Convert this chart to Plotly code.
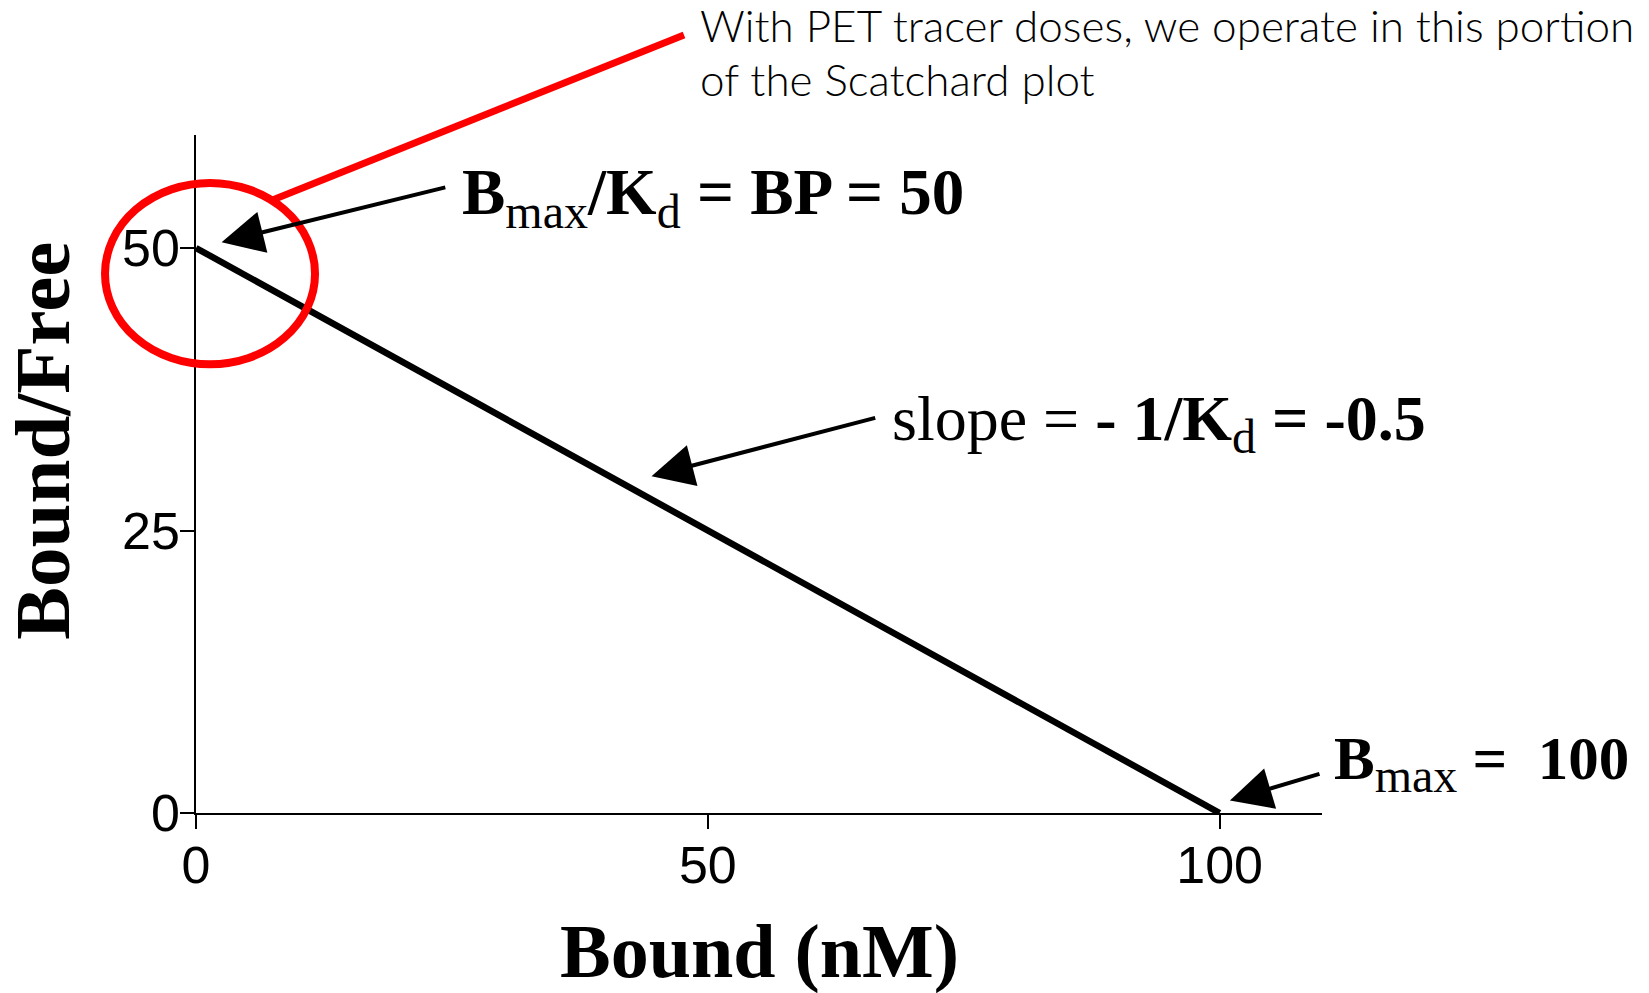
import plotly.graph_objects as go

# Scatchard plot: Bound/Free vs Bound for a single binding site
bmax = 100          # nM
kd = 2              # nM
bound_nM = [0, bmax]
bound_over_free = [bmax / kd, 0]
x_ticks = [0, 50, 100]
y_ticks = [0, 25, 50]

SERIF = "Liberation Serif"
SANS = "Liberation Sans"

fig = go.Figure()
fig.add_trace(go.Scatter(
    x=bound_nM, y=bound_over_free, mode="lines",
    line=dict(color="black", width=6.5),
    cliponaxis=False, showlegend=False, hoverinfo="skip",
))

axis_common = dict(
    showline=True, linecolor="black", linewidth=1.5,
    ticks="outside", ticklen=14, tickwidth=1.5, tickcolor="black",
    showgrid=False, zeroline=False,
    tickfont=dict(family=SANS, size=52, color="black"),
)
fig.update_xaxes(range=[0, 110], tickvals=x_ticks, ticklabelstandoff=-8, **axis_common)
fig.update_yaxes(range=[0, 60], tickvals=y_ticks, ticklabelstandoff=-10, **axis_common)


def arrow(tip, tail):
    fig.add_annotation(
        x=tip[0], y=tip[1], ax=tail[0], ay=tail[1],
        xref="x", yref="y", axref="x", ayref="y",
        text="", showarrow=True, arrowhead=2, arrowsize=2.1,
        arrowwidth=4, arrowcolor="black", standoff=0,
    )


SUB = '<sub><span style="font-size:48px">{}</span></sub>'

# B_max / K_d label at the y-intercept
arrow((2.5, 50.5), (24.5, 55.4))
fig.add_annotation(
    x=25.8, y=50.73, xref="x", yref="y", xanchor="left", yanchor="bottom",
    text="<b>B</b>" + SUB.format("max") + "<b>/K</b>" + SUB.format("d") + "<b> = BP = 50</b>",
    showarrow=False, font=dict(family=SERIF, size=65, color="black"),
)

# slope label
arrow((44.5, 29.8), (66.5, 35.0))
fig.add_annotation(
    x=67.8, y=30.8, xref="x", yref="y", xanchor="left", yanchor="bottom",
    text="slope = <b>- 1/K</b>" + SUB.format("d") + "<b> = -0.5</b>",
    showarrow=False, font=dict(family=SERIF, size=64, color="black"),
)

# B_max label at the x-intercept
arrow((101.0, 1.1), (109.9, 3.5))
fig.add_annotation(
    x=1.0086, y=0.0135, xref="paper", yref="paper", xanchor="left", yanchor="bottom",
    text="<b>B</b>" + SUB.format("max") + "<b> =&nbsp;&nbsp;100</b>",
    showarrow=False, font=dict(family=SERIF, size=61, color="black"),
)

# axis titles
fig.add_annotation(
    x=0.5, y=-0.27, xref="paper", yref="paper", xanchor="center", yanchor="bottom",
    text="<b>Bound (nM)</b>", showarrow=False,
    font=dict(family=SERIF, size=76, color="black"),
)
fig.add_annotation(
    x=-0.136, y=0.549, xref="paper", yref="paper", xanchor="center", yanchor="middle",
    text="<b>Bound/Free</b>", textangle=-90, showarrow=False,
    font=dict(family=SERIF, size=79, color="black"),
)

# highlighted low-occupancy region and callout
fig.add_shape(
    type="circle", xref="paper", yref="paper",
    x0=-0.0808, x1=0.1057, y0=0.6617, y1=0.9292,
    line=dict(color="#ff0000", width=8),
)
fig.add_shape(
    type="line", xref="paper", yref="paper",
    x0=0.0657, y0=0.9027, x1=0.4334, y1=1.1475,
    line=dict(color="#ff0000", width=7),
)
callout_font = dict(family="Lato", size=44, color="black", weight=300)
fig.add_annotation(
    x=0.4458, y=1.162, xref="paper", yref="paper", xanchor="left", yanchor="middle",
    text="With PET tracer doses, we operate in this portion",
    showarrow=False, font=callout_font,
)
fig.add_annotation(
    x=0.4458, y=1.0826, xref="paper", yref="paper", xanchor="left", yanchor="middle",
    text="of the Scatchard plot",
    showarrow=False, font=callout_font,
)

fig.update_layout(
    width=1649, height=993,
    margin=dict(l=196, r=327, t=135, b=180),
    paper_bgcolor="white", plot_bgcolor="white",
)

fig.write_html("out.html")
